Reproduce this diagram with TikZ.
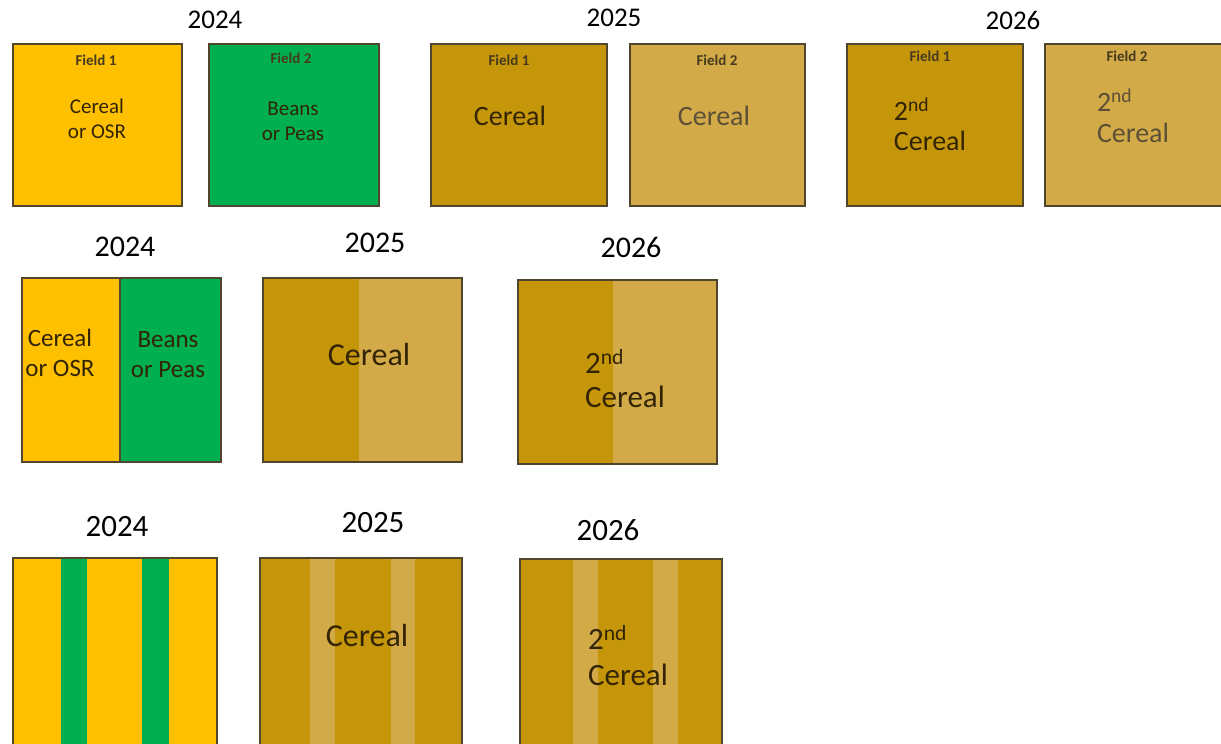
\documentclass[tikz,border=0pt]{standalone}
\usepackage{fontspec}
\setmainfont{Carlito}

\definecolor{osr}{RGB}{255,192,0}
\definecolor{beans}{RGB}{0,176,80}
\definecolor{cereal}{RGB}{197,150,10}
\definecolor{cereallt}{RGB}{211,170,72}
\definecolor{rim}{RGB}{80,70,45}
\definecolor{ink}{RGB}{50,36,5}

\begin{document}
\begin{tikzpicture}[x=1pt,y=-1pt,
	field/.style={rectangle,draw=rim,line width=1.2pt,inner sep=0pt,outer sep=0pt,anchor=north west},
	strip/.style={rectangle,inner sep=0pt,outer sep=0pt,anchor=north west},
	year/.style={font=\fontsize{#1}{#1}\selectfont,text=black},
	tag/.style={font=\fontsize{15}{16}\selectfont\bfseries,text=ink!90},
	crop/.style 2 args={text=ink,align=center,inner sep=0pt,font=\fontsize{#1}{#2}\selectfont},
	second/.style 2 args={text=ink,align=left,inner sep=0pt,font=\fontsize{#1}{#2}\selectfont}]

	\useasboundingbox (0,0) rectangle (1221,744);

	% two fields
	\node (y24a)	at (215,20) [year=27] {2024};
	\node (y25a)	at (614,18) [year=27] {2025};
	\node (y26a)	at (1013,20) [year=27] {2026};

	\node (f1a)	at (13,44) [field,fill=osr,minimum width=169pt,minimum height=162pt] {};
	\node (f2a)	at (209,44) [field,fill=beans,minimum width=170pt,minimum height=162pt] {};
	\node (f1b)	at (431,44) [field,fill=cereal,minimum width=176pt,minimum height=162pt] {};
	\node (f2b)	at (630,44) [field,fill=cereallt,minimum width=175pt,minimum height=162pt] {};
	\node (f1c)	at (847,44) [field,fill=cereal,minimum width=176pt,minimum height=162pt] {};
	\node (f2c)	at (1045,44) [field,fill=cereallt,minimum width=180pt,minimum height=162pt] {};

	\node (t1a)	at (96,60) [tag] {Field 1};
	\node (t2a)	at (291,58) [tag] {Field 2};
	\node (t1b)	at (509,60) [tag] {Field 1};
	\node (t2b)	at (717,60) [tag] {Field 2};
	\node (t1c)	at (930,56) [tag] {Field 1};
	\node (t2c)	at (1127,56) [tag] {Field 2};

	\node (c1a)	at (97,119) [crop={21}{25}] {Cereal\\or OSR};
	\node (c2a)	at (293,121) [crop={21}{25}] {Beans\\or Peas};
	\node (c1b)	at (510,116) [crop={28}{30}] {Cereal};
	\node (c2b)	at (714,116) [crop={28}{30},text=ink!80] {Cereal};
	\node (c1c)	at (930,124) [second={28}{30}] {2\textsuperscript{nd}\\Cereal};
	\node (c2c)	at (1133,116) [second={28}{31},text=ink!80] {2\textsuperscript{nd}\\Cereal};

	% one field, two halves
	\node (y24b)	at (125,247) [year=30] {2024};
	\node (y25b)	at (375,243) [year=30] {2025};
	\node (y26b)	at (631,247) [year=30] {2026};

	\node (h1a)	at (22,278) [strip,fill=osr,minimum width=98pt,minimum height=184pt] {};
	\node (h2a)	at (120,278) [strip,fill=beans,minimum width=101pt,minimum height=184pt] {};
	\node (h1b)	at (263,278) [strip,fill=cereal,minimum width=96pt,minimum height=184pt] {};
	\node (h2b)	at (359,278) [strip,fill=cereallt,minimum width=103pt,minimum height=184pt] {};
	\node (h1c)	at (518,280) [strip,fill=cereal,minimum width=95pt,minimum height=184pt] {};
	\node (h2c)	at (613,280) [strip,fill=cereallt,minimum width=104pt,minimum height=184pt] {};

	\node (ha)	at (22,278) [field,minimum width=199pt,minimum height=184pt] {};
	\node (hb)	at (263,278) [field,minimum width=199pt,minimum height=184pt] {};
	\node (hc)	at (518,280) [field,minimum width=199pt,minimum height=184pt] {};
	\draw [rim,line width=1.2pt] (h1a.north east) -- (h1a.south east);

	\node (d1a)	at (60,353) [crop={25}{30}] {Cereal\\or OSR};
	\node (d2a)	at (168,355) [crop={25}{30}] {Beans\\or Peas};
	\node (d1b)	at (369,355) [crop={32}{34}] {Cereal};
	\node (d1c)	at (625,379) [second={31}{34}] {2\textsuperscript{nd}\\Cereal};

	% one field, strips
	\node (y24c)	at (117,527) [year=31] {2024};
	\node (y25c)	at (373,523) [year=31] {2025};
	\node (y26c)	at (608,530) [year=31] {2026};

	\node (s0a)	at (13,558) [strip,fill=osr,minimum width=204pt,minimum height=190pt] {};
	\node (s1a)	at (61,558) [strip,fill=beans,minimum width=26pt,minimum height=190pt] {};
	\node (s2a)	at (142,558) [strip,fill=beans,minimum width=27pt,minimum height=190pt] {};
	\node (s0b)	at (260,558) [strip,fill=cereal,minimum width=202pt,minimum height=190pt] {};
	\node (s1b)	at (310,558) [strip,fill=cereallt,minimum width=25pt,minimum height=190pt] {};
	\node (s2b)	at (391,558) [strip,fill=cereallt,minimum width=24pt,minimum height=190pt] {};
	\node (s0c)	at (520,559) [strip,fill=cereal,minimum width=202pt,minimum height=190pt] {};
	\node (s1c)	at (573,559) [strip,fill=cereallt,minimum width=25pt,minimum height=190pt] {};
	\node (s2c)	at (653,559) [strip,fill=cereallt,minimum width=25pt,minimum height=190pt] {};

	\node (sa)	at (13,558) [field,minimum width=204pt,minimum height=190pt] {};
	\node (sb)	at (260,558) [field,minimum width=202pt,minimum height=190pt] {};
	\node (sc)	at (520,559) [field,minimum width=202pt,minimum height=190pt] {};

	\node (e1b)	at (367,636) [crop={32}{34}] {Cereal};
	\node (e1c)	at (628,656) [second={31}{36}] {2\textsuperscript{nd}\\Cereal};

\end{tikzpicture}
\end{document}
